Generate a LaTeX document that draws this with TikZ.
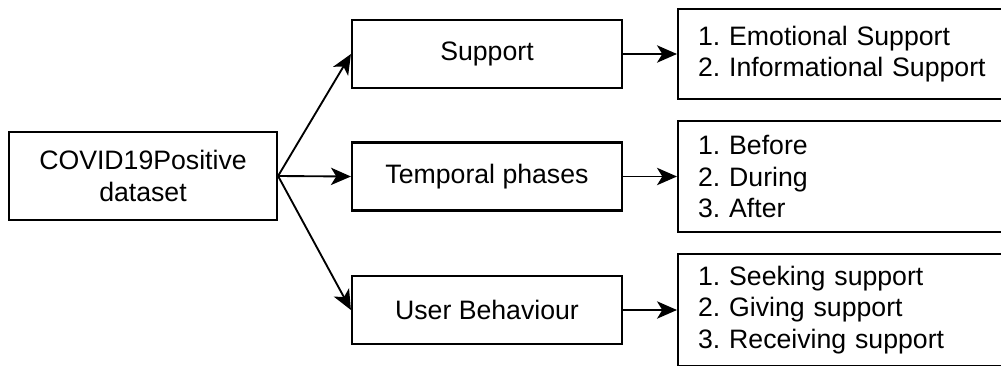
\documentclass[tikz,border=0pt]{standalone}
\usepackage{fontspec}
\setmainfont{Liberation Sans}
\usetikzlibrary{arrows.meta}

\begin{document}
\begin{tikzpicture}[x=0.75pt,y=-0.75pt,
  box/.style={draw=black,line width=1.6pt,fill=white,rectangle,
    font=\fontsize{20}{23.6}\selectfont\frenchspacing,align=center,inner sep=0pt},
  midbox/.style={box,minimum width=202.5pt,minimum height=51pt},
  listbox/.style={box,anchor=west,minimum width=250pt,inner xsep=15pt,
    text width=220pt,align=left},
  link/.style={line width=1.4pt,-{Stealth[length=15pt,width=13pt,inset=4pt]}}]
  \useasboundingbox (0,0) rectangle (1001,365);
  \clip (0,0) rectangle (1001,365);
  \fill[white] (0,0) rectangle (1001,365);

  % source
  \node[box,minimum width=201pt,minimum height=66pt] (src) at (143,176) {COVID19Positive\\dataset};

  % categories
  \node[midbox] (sup) at (487,54) {Support};
  \node[midbox] (tmp) at (487,176.5) {Temporal phases};
  \node[midbox] (usr) at (487,310) {User Behaviour};

  % sub-categories
  \node[listbox,minimum height=67.5pt] (supl) at (677,54) {1. Emotional Support\\2. Informational Support};
  \node[listbox,minimum height=83.25pt] (tmpl) at (677,176.5) {1. Before\\2. During\\3. After};
  \node[listbox,minimum height=84pt] (usrl) at (677,310) {1. Seeking support\\2. Giving support\\3. Receiving support};

  % connectors
  \draw[link] (src.east) -- (sup.west);
  \draw[link] (src.east) -- (tmp.west);
  \draw[link] (src.east) -- (usr.west);
  \draw[link] (sup.east) -- (supl.west);
  \draw[link] (tmp.east) -- (tmpl.west);
  \draw[link] (usr.east) -- (usrl.west);
\end{tikzpicture}
\end{document}
